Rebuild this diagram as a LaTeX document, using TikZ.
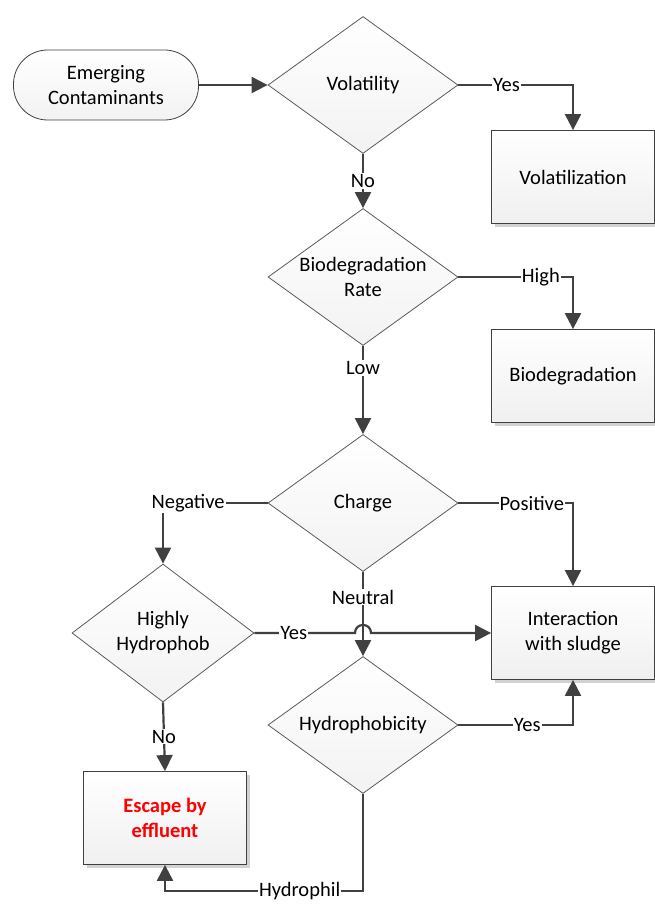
\documentclass[tikz,border=0pt]{standalone}
\usepackage{fontspec}
\setmainfont{Carlito}
\usetikzlibrary{arrows.meta,shapes,positioning,shadows}
\definecolor{flline}{RGB}{64,64,64}
\definecolor{fledge}{RGB}{90,90,90}
\definecolor{flred}{RGB}{255,0,0}
\tikzstyle{decision} = [diamond, draw=fledge, line width=0.8pt, aspect=1.39, inner sep=0pt, minimum width=190pt, minimum height=137pt, align=center, top color=white, bottom color=gray!10]
\tikzstyle{process} = [rectangle, draw=flline, line width=0.8pt, minimum width=163pt, minimum height=93pt, align=center, top color=white, bottom color=gray!12, drop shadow={shadow xshift=3pt, shadow yshift=-3pt, fill=gray!35, opacity=1}]
\tikzstyle{startstop} = [rectangle, rounded corners=34pt, draw=flline, line width=0.8pt, minimum width=185pt, minimum height=70pt, align=center, top color=white, bottom color=gray!10]
\tikzstyle{arrow} = [line width=2.2pt, color=flline, -{Triangle[length=16pt,width=16pt]}]
\tikzstyle{lbl} = [fill=white, inner sep=1pt, text=black]

\begin{document}
\begin{tikzpicture}[x=1pt, y=-1pt, font=\fontsize{20.5}{25}\selectfont]
\useasboundingbox (0,0) rectangle (654,904);

% Start and first decision
\node[startstop] (start) at (106,85) {Emerging\\Contaminants};
\node[decision] (vol) at (363,85) {Volatility};
\node[process] (volbox) at (573,177) {Volatilization};

% Biodegradation
\node[decision] (bio) at (363,277) {Biodegradation\\Rate};
\node[process] (biobox) at (573,376) {Biodegradation};

% Charge
\node[decision] (charge) at (363,503) {Charge};
\node[decision, minimum width=182pt, minimum height=138pt] (hh) at (163,633) {Highly\\Hydrophob};
\node[process] (intbox) at (573,633) {Interaction\\with sludge};

% Hydrophobicity and effluent
\node[decision] (hyd) at (363,725) {Hydrophobicity};
\node[process, font=\fontsize{20.5}{25}\selectfont\bfseries, text=flred] (escbox) at (165,818) {Escape by\\effluent};

\coordinate (jmpL) at (355,633);
\coordinate (jmpR) at (371,633);
\coordinate (hbot) at (363,891);

% Connectors
\draw[arrow] (start) -- (vol);
\draw[arrow] (vol.east) -| node[lbl, pos=0.21] {Yes} (volbox.north);
\draw[arrow] (vol.south) -- node[lbl] {No} (bio.north);
\draw[arrow] (bio.east) -| node[lbl, pos=0.36] {High} (biobox.north);
\draw[arrow] (bio.south) -- node[lbl, pos=0.25] {Low} (charge.north);
\draw[arrow] (charge.east) -| node[lbl, pos=0.32] {Positive} (intbox.north);
\draw[arrow] (charge.west) -| node[lbl, pos=0.38] {Negative} (hh.north);
\draw[arrow] (charge.south) -- node[lbl, pos=0.3] {Neutral} (hyd.north);
\draw[arrow] (hh.east) -- node[lbl, pos=0.39] {Yes} (jmpL)
  .. controls (355,622.3) and (371,622.3) .. (jmpR) -- (intbox.west);
\draw[arrow] (hh.south) -- node[lbl] {No} (escbox.north);
\draw[arrow] (hyd.east) -| node[lbl, pos=0.3] {Yes} (intbox.south);
\draw[arrow] (hyd.south) -- (hbot) -| node[lbl, pos=0.16] {Hydrophil} (escbox.south);
\end{tikzpicture}
\end{document}
